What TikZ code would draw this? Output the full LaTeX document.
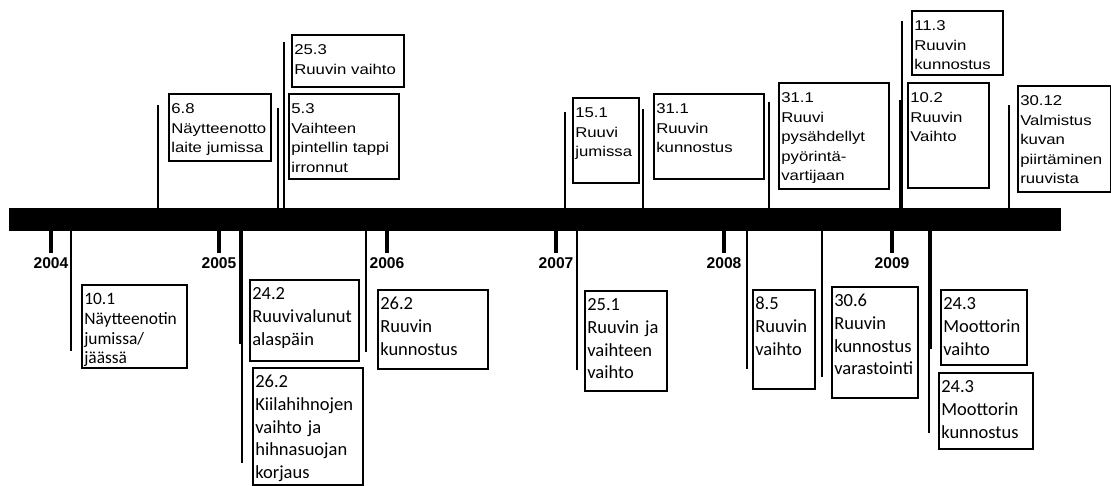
\documentclass[tikz,border=0pt]{standalone}
\usepackage{fontspec}
\setmainfont{Liberation Sans}
\newfontfamily\arialx[FakeStretch=1.18]{Liberation Sans}
\newfontfamily\calib{Carlito}
\newfontfamily\yearfam{Liberation Sans}
\newcommand\boxfontA{\arialx\fontsize{14.2}{19.5}\selectfont\hyphenpenalty=10000 }
\newcommand\boxfontC{\calib\fontsize{18.5}{22.6}\selectfont\hyphenpenalty=10000 }
\newcommand\boxfontCs{\calib\fontsize{17.4}{19.7}\selectfont\hyphenpenalty=10000 }
\hyphenpenalty=10000
\begin{document}
\begin{tikzpicture}[x=1pt,y=-1pt,
  abox/.style={draw, line width=1.6pt, anchor=north west, inner xsep=2.5pt, inner ysep=0pt, align=left, text height=20pt},
  conn/.style={line width=1.8pt},
  tick/.style={line width=3.8pt},
  yearlbl/.style={anchor=north, inner sep=0pt, inner ysep=4pt, font=\yearfam\bfseries\fontsize{15.6}{18}\selectfont}]
\useasboundingbox (0,0) rectangle (1111,485);
% main bar
\node[fill=black, draw=none, inner sep=0pt, minimum width=1052pt, minimum height=23pt, anchor=north west] (bar) at (9,208) {};
% years
\foreach \yr/\xx in {2004/51,2005/219,2006/387,2007/556,2008/724,2009/892}{
  \node[yearlbl] (y\yr) at (\xx,253) {\yr};
  \draw[tick] (bar.south -| y\yr.north) -- (y\yr.north);
}
% upper boxes
\node[abox, font=\boxfontA, text width=97pt, text depth=47pt] (b68) at (168,93) {6.8\\Näytteenotto\\\mbox{laite jumissa}};
\node[abox, font=\boxfontA, text width=107pt, text depth=32pt] (b253) at (291,34) {25.3\\\mbox{Ruuvin vaihto}};
\node[abox, font=\boxfontA, text width=105pt, text depth=65pt] (b53) at (288,93) {5.3\\Vaihteen\\\mbox{pintellin tappi}\\irronnut};
\node[abox, font=\boxfontA, text width=61pt, text depth=65pt] (b151) at (572,97) {15.1\\Ruuvi\\jumissa};
\node[abox, font=\boxfontA, text width=105pt, text depth=65pt] (b311a) at (653,93) {31.1\\Ruuvin\\kunnostus};
\node[abox, font=\boxfontA, text width=105pt, text depth=86pt] (b311b) at (778,82) {31.1\\Ruuvi\\pysähdellyt\\pyörintä-\\vartijaan};
\node[abox, font=\boxfontA, text width=86pt, text depth=44pt] (b113) at (911,10) {11.3\\Ruuvin\\kunnostus};
\node[abox, font=\boxfontA, text width=76pt, text depth=85pt] (b102) at (907,82) {10.2\\Ruuvin\\Vaihto};
\node[abox, font=\boxfontA, text width=88pt, text depth=86pt] (b3012) at (1017,85) {30.12\\Valmistus\\kuvan\\piirtäminen\\ruuvista};
% lower boxes
\node[abox, font=\boxfontCs, text width=100pt, text depth=63pt] (b101) at (81,284) {10.1\\Näytteenotin\\jumissa/\\jäässä};
\node[abox, font=\boxfontC, text width=104pt, text depth=61pt] (b242) at (249,279) {24.2\\\mbox{Ruuvi\hspace{1pt}valunut}\\alaspäin};
\node[abox, font=\boxfontC, text width=105pt, text depth=97pt] (b262a) at (252,367) {26.2\\Kiilahihnojen\\\mbox{vaihto ja}\\hihnasuojan\\korjaus};
\node[abox, font=\boxfontC, text width=105pt, text depth=59pt] (b262b) at (377,289) {26.2\\Ruuvin\\kunnostus};
\node[abox, font=\boxfontC, text width=77pt, text depth=80pt] (b251) at (584,290) {25.1\\\mbox{Ruuvin ja}\\vaihteen\\vaihto};
\node[abox, font=\boxfontC, text width=57pt, text depth=79pt] (b85) at (752,289) {8.5\\Ruuvin\\vaihto};
\node[abox, font=\boxfontC, text width=81pt, text depth=91pt] (b306) at (831,286) {30.6\\Ruuvin\\kunnostus\\varastointi};
\node[abox, font=\boxfontC, text width=81pt, text depth=55pt] (b243a) at (940,289) {24.3\\Moottorin\\vaihto};
\node[abox, font=\boxfontC, text width=89pt, text depth=56pt] (b243b) at (938,372) {24.3\\Moottorin\\kunnostus};
% connector free ends
\coordinate (c68) at (158,105);
\coordinate (c253) at (284,42);
\coordinate (c53) at (278,108);
\coordinate (c151) at (565,112);
\coordinate (c311a) at (643,109);
\coordinate (c311b) at (769,102);
\coordinate (c113) at (902,21);
\coordinate (c102) at (900,100);
\coordinate (c3012) at (1009,105);
\coordinate (c101) at (71,351);
\coordinate (c242) at (240,344);
\coordinate (c262a) at (242,463);
\coordinate (c262b) at (366,352);
\coordinate (c251) at (577,370);
\coordinate (c85) at (747,369);
\coordinate (c306) at (822,377);
\coordinate (c243a) at (931,349);
\coordinate (c243b) at (929,433);
\foreach \c in {c68,c253,c53,c151,c311a,c311b,c113,c102,c3012}{
  \draw[conn] (bar.north -| \c) -- (\c);
}
\foreach \c in {c101,c242,c262a,c262b,c251,c85,c306,c243a,c243b}{
  \draw[conn] (bar.south -| \c) -- (\c);
}
\end{tikzpicture}
\end{document}
